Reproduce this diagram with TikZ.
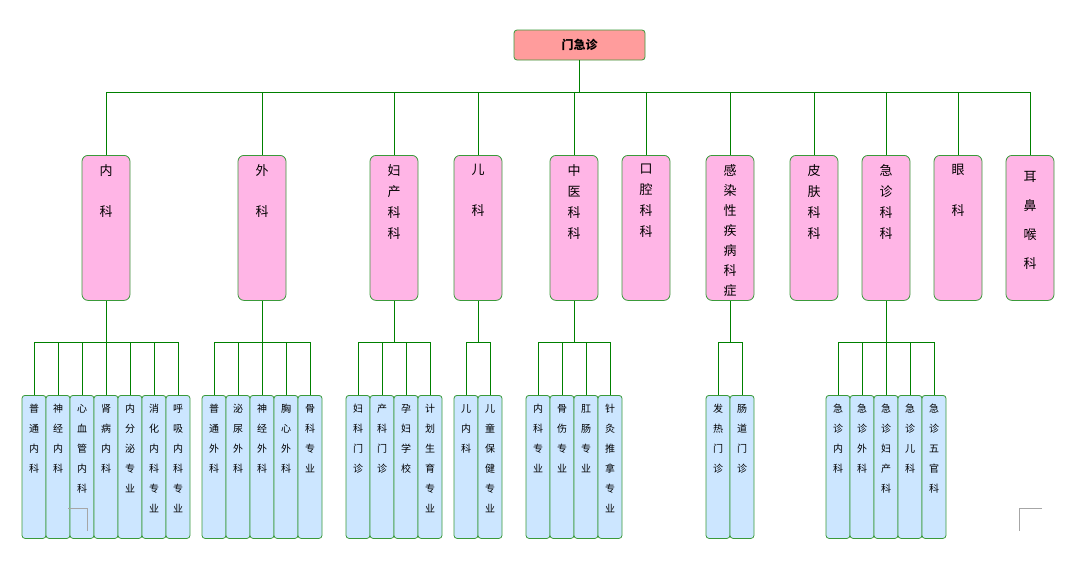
\documentclass[tikz,border=0pt]{standalone}
\usepackage{fontspec}
\newfontfamily\cjk{Noto Sans CJK SC}
\definecolor{lg}{HTML}{008000}
\definecolor{bd}{HTML}{3A9A3A}
\definecolor{pk}{HTML}{FFB5E6}
\definecolor{bl}{HTML}{CCE6FF}
\definecolor{tp}{HTML}{FF9C9C}
\tikzset{
 conn/.style={lg, line width=0.8pt},
 two/.style={draw=bd, fill=pk, line width=0.8pt, rounded corners=6pt, minimum width=48pt, minimum height=145pt, inner sep=0pt, anchor=north},
 three/.style={draw=bd, fill=bl, line width=0.8pt, rounded corners=3pt, minimum width=24pt, minimum height=143pt, inner sep=0pt, anchor=north},
 tx2/.style={anchor=north, align=center, inner sep=0pt, font=\cjk\fontsize{13}{21}\selectfont},
 tx3/.style={anchor=north, align=center, inner sep=0pt, font=\cjk\fontsize{10}{20}\selectfont},
 cmark/.style={draw=gray!70, line width=0.6pt}
}
\newcommand\Ltwo[4]{\node[two] (#1) at (#2,-155) {}; \node[tx2] (#1t) at (#2,-164) {#3};}
\newcommand\Lthree[3]{\node[three] (#1) at (#2,-395) {}; \node[tx3] (#1t) at (#2,-404) {#3};}
\begin{document}
\begin{tikzpicture}[x=1pt,y=1pt]
\useasboundingbox (0,0) rectangle (1087,-563);
\node[draw=bd, fill=tp, line width=0.8pt, rounded corners=3pt, minimum width=131pt, minimum height=30pt, font=\cjk\bfseries\fontsize{12}{14}\selectfont] (top) at (579.5,-45) {门急诊};
\coordinate (tb) at (0,-92);
\coordinate (sb) at (0,-342);
\Ltwo{n1}{106}{内\\[20pt]科}{}
\Ltwo{n2}{262}{外\\[20pt]科}{}
\Ltwo{n3}{394}{妇\\产\\科\\科}{}
\Ltwo{n4}{478}{儿\\[20pt]科}{}
\Ltwo{n5}{574}{中\\医\\科\\科}{}
\Ltwo{n6}{646}{口\\腔\\科\\科}{}
\node[two] (n7) at (730,-155) {}; \node[tx2, font=\cjk\fontsize{13}{20}\selectfont] (n7t) at (730,-164) {感\\染\\性\\疾\\病\\科\\症};
\Ltwo{n8}{814}{皮\\肤\\科\\科}{}
\Ltwo{n9}{886}{急\\诊\\科\\科}{}
\Ltwo{n10}{958}{眼\\[20pt]科}{}
\node[two] (nx) at (1030,-155) {}; \node[tx2, font=\cjk\fontsize{13}{29}\selectfont] (nxt) at (1030,-171) {耳\\鼻\\喉\\科};
\draw[conn] (top.south) -- (top.south|-tb);
\draw[conn] (n1.north|-tb) -- (nx.north|-tb);
\foreach \n in {n1,n2,n3,n4,n5,n6,n7,n8,n9,n10,nx} \draw[conn] (\n.north) -- (\n.north|-tb);
% level 3
\Lthree{a1}{34}{普\\通\\内\\科}
\Lthree{a2}{58}{神\\经\\内\\科}
\Lthree{a3}{82}{心\\血\\管\\内\\科}
\Lthree{a4}{106}{肾\\病\\内\\科}
\Lthree{a5}{130}{内\\分\\泌\\专\\业}
\Lthree{a6}{154}{消\\化\\内\\科\\专\\业}
\Lthree{a7}{178}{呼\\吸\\内\\科\\专\\业}
\Lthree{b1}{214}{普\\通\\外\\科}
\Lthree{b2}{238}{泌\\尿\\外\\科}
\Lthree{b3}{262}{神\\经\\外\\科}
\Lthree{b4}{286}{胸\\心\\外\\科}
\Lthree{b5}{310}{骨\\科\\专\\业}
\Lthree{c1}{358}{妇\\科\\门\\诊}
\Lthree{c2}{382}{产\\科\\门\\诊}
\Lthree{c3}{406}{孕\\妇\\学\\校}
\Lthree{c4}{430}{计\\划\\生\\育\\专\\业}
\Lthree{d1}{466}{儿\\内\\科}
\Lthree{d2}{490}{儿\\童\\保\\健\\专\\业}
\Lthree{e1}{538}{内\\科\\专\\业}
\Lthree{e2}{562}{骨\\伤\\专\\业}
\Lthree{e3}{586}{肛\\肠\\专\\业}
\Lthree{e4}{610}{针\\灸\\推\\拿\\专\\业}
\Lthree{f1}{718}{发\\热\\门\\诊}
\Lthree{f2}{742}{肠\\道\\门\\诊}
\Lthree{g1}{838}{急\\诊\\内\\科}
\Lthree{g2}{862}{急\\诊\\外\\科}
\Lthree{g3}{886}{急\\诊\\妇\\产\\科}
\Lthree{g4}{910}{急\\诊\\儿\\科}
\Lthree{g5}{934}{急\\诊\\五\\官\\科}
\foreach \p/\f/\l/\cs in {n1/a1/a7/{a1,a2,a3,a4,a5,a6,a7}, n2/b1/b5/{b1,b2,b3,b4,b5}, n3/c1/c4/{c1,c2,c3,c4}, n4/d1/d2/{d1,d2}, n5/e1/e4/{e1,e2,e3,e4}, n7/f1/f2/{f1,f2}, n9/g1/g5/{g1,g2,g3,g4,g5}}{
  \draw[conn] (\p.south) -- (\p.south|-sb);
  \draw[conn] (\f.north|-sb) -- (\l.north|-sb);
  \foreach \c in \cs \draw[conn] (\c.north) -- (\c.north|-sb);
}
\draw[cmark] (68,-508) -- (87,-508) -- (87,-531);
\draw[cmark] (1042,-508) -- (1019,-508) -- (1019,-531);
\end{tikzpicture}
\end{document}
